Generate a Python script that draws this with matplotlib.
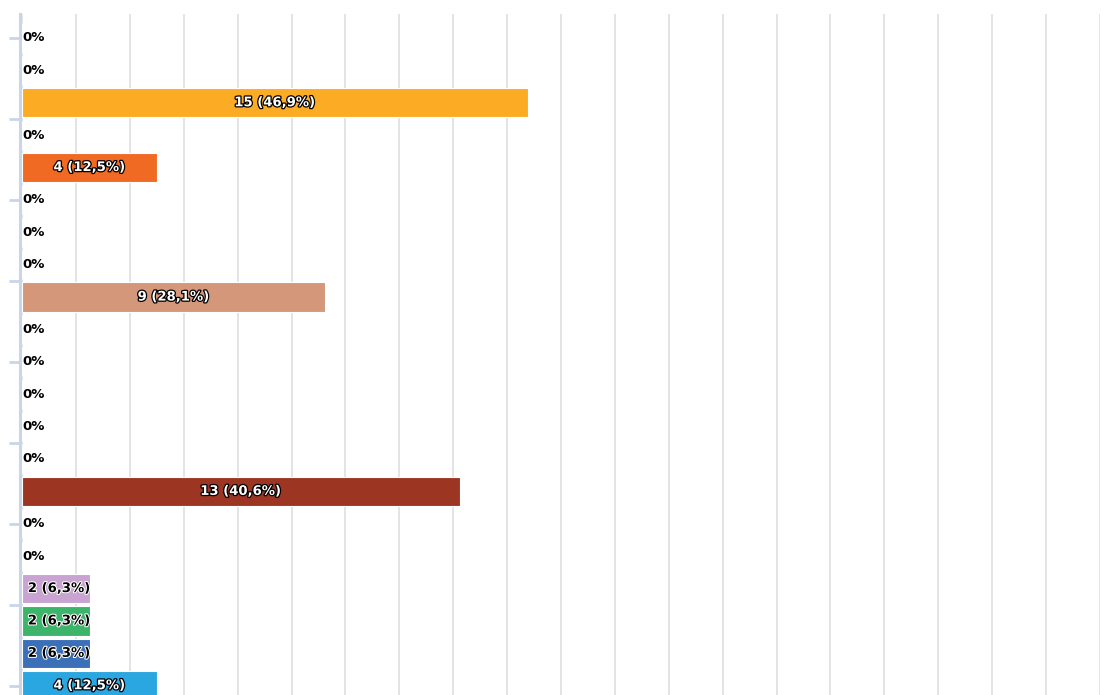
import matplotlib.pyplot as plt
import matplotlib.patheffects as pe

# one row per answer option, top to bottom
counts = [0, 0, 15, 0, 4, 0, 0, 0, 9, 0, 0, 0, 0, 0, 13, 0, 0, 2, 2, 2, 4]
percents = [0, 0, 46.9, 0, 12.5, 0, 0, 0, 28.1, 0, 0, 0, 0, 0, 40.6, 0, 0, 6.3, 6.3, 6.3, 12.5]
colors = ['#cccccc', '#cccccc', '#fcab24', '#cccccc', '#f06a24', '#cccccc', '#cccccc',
          '#cccccc', '#d4977a', '#cccccc', '#cccccc', '#cccccc', '#cccccc', '#cccccc',
          '#9c3521', '#cccccc', '#cccccc', '#c9a3d1', '#3cb46a', '#3b6fb7', '#2aa6e0']

fig = plt.figure(figsize=(11.12, 6.95), dpi=100)
ax = fig.add_axes([0.0198, -0.0216, 0.9694, 1.0015])

rows = list(range(len(counts)))
ax.barh(rows, percents, height=0.9, color=colors, edgecolor='white',
        linewidth=0.8, zorder=3)

for y, c, p in zip(rows, counts, percents):
    if c == 0:
        ax.text(0.0, y, '0%', ha='left', va='center', fontsize=9.5,
                fontweight='heavy', color='black', zorder=4)
    else:
        lab = f"{c} ({p:.1f}%)".replace('.', ',')
        if p < 10:
            ax.text(p / 2 + 0.3, y, lab, ha='center', va='center', fontsize=9.5,
                    fontweight='heavy', color='black', zorder=4,
                    path_effects=[pe.withStroke(linewidth=1.5, foreground='white')])
        else:
            ax.text(p / 2, y, lab, ha='center', va='center', fontsize=9.5,
                    fontweight='heavy', color='white', zorder=4,
                    path_effects=[pe.withStroke(linewidth=1.8, foreground='black')])

ax.set_xlim(0, 100)
ax.set_ylim(20.75, -0.74)
ax.set_xticks(range(0, 101, 5))
ax.xaxis.grid(True, color='#e2e2e2', linewidth=1.3, zorder=0)
ax.set_axisbelow(True)
ax.tick_params(axis='x', length=0, labelbottom=False)

ax.set_yticks([0, 2.5, 5, 7.5, 10, 12.5, 15, 17.5, 20])
ax.tick_params(axis='y', length=8, width=2, color='#c9d5ea', labelleft=False)

for s in ['top', 'right', 'bottom']:
    ax.spines[s].set_visible(False)
ax.spines['left'].set_color('#c9d5ea')
ax.spines['left'].set_linewidth(2.2)
ax.spines['left'].set_position(('outward', 1.5))

fig.savefig('out.png', dpi=100)
